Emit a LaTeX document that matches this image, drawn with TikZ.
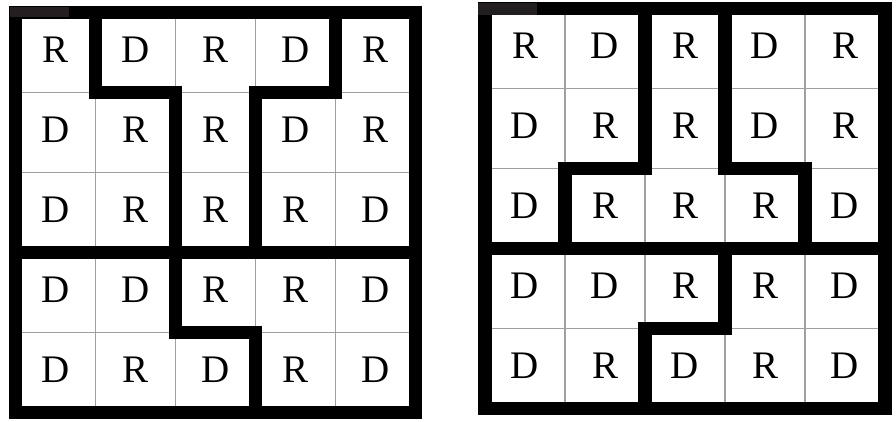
\documentclass[tikz,border=0pt]{standalone}
\usepackage{fontspec}
\setmainfont{Liberation Serif}
\definecolor{barcol}{HTML}{231F20}
\begin{document}
\begin{tikzpicture}[x=1pt,y=-1pt,
  gridline/.style={draw=gray!75, line width=1.2pt},
  wall/.style={draw=black, line width=13.5pt, line join=miter, line cap=rect},
  letter/.style={font=\fontsize{39}{39}\selectfont, inner sep=0pt},
  bar/.style={fill=barcol}]
\useasboundingbox (0,0) rectangle (896,422);
\fill[white] (0,0) rectangle (896,422);
% ---------- left grid ----------
\begin{scope}[shift={(15.5,12.5)}]
  \foreach \k in {80,160,240,320} {
    \draw[gridline] (\k,0) -- (\k,400);
    \draw[gridline] (0,\k) -- (400,\k);
  }
  \foreach \row [count=\i] in {{R,D,R,D,R},{D,R,R,D,R},{D,R,R,R,D},{D,D,R,R,D},{D,R,D,R,D}} {
    \foreach \c [count=\j] in \row {
      \node[letter] (A-\i-\j) at (80*\j-40, 80*\i-42.5) {\c};
    }
  }
  \draw[wall] (80,0) -- (80,80) -- (160,80) -- (160,320) -- (240,320) -- (240,400);
  \draw[wall] (320,0) -- (320,80) -- (240,80) -- (240,240);
  \draw[wall] (0,240) -- (400,240);
  \draw[wall] (0,0) rectangle (400,400);
\end{scope}
\fill[bar] (10,7) rectangle (69,17);
% ---------- right grid ----------
\begin{scope}[shift={(485,8.5)}]
  \foreach \k in {80,160,240,320} {
    \draw[gridline] (\k,0) -- (\k,400);
    \draw[gridline] (0,\k) -- (400,\k);
  }
  \foreach \row [count=\i] in {{R,D,R,D,R},{D,R,R,D,R},{D,R,R,R,D},{D,D,R,R,D},{D,R,D,R,D}} {
    \foreach \c [count=\j] in \row {
      \node[letter] (B-\i-\j) at (80*\j-40, 80*\i-42.5) {\c};
    }
  }
  \draw[wall] (160,0) -- (160,160) -- (80,160) -- (80,240);
  \draw[wall] (240,0) -- (240,160) -- (320,160) -- (320,240);
  \draw[wall] (0,240) -- (400,240);
  \draw[wall] (240,240) -- (240,320) -- (160,320) -- (160,400);
  \draw[wall] (0,0) rectangle (400,400);
\end{scope}
\fill[bar] (478,3) rectangle (537,15);
\end{tikzpicture}
\end{document}
